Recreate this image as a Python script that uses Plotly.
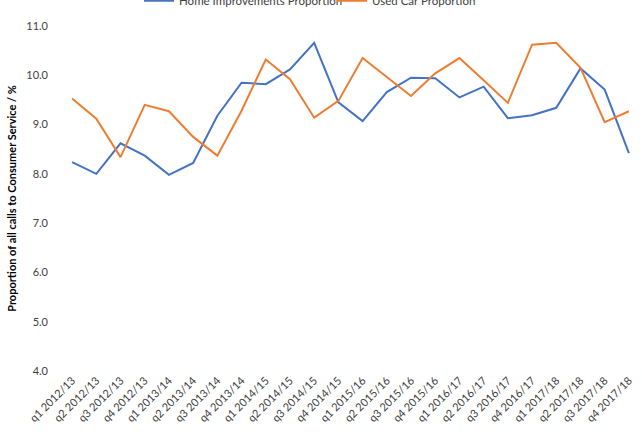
import plotly.graph_objects as go

quarters = ["q1 2012/13","q2 2012/13","q3 2012/13","q4 2012/13",
            "q1 2013/14","q2 2013/14","q3 2013/14","q4 2013/14",
            "q1 2014/15","q2 2014/15","q3 2014/15","q4 2014/15",
            "q1 2015/16","q2 2015/16","q3 2015/16","q4 2015/16",
            "q1 2016/17","q2 2016/17","q3 2016/17","q4 2016/17",
            "q1 2017/18","q2 2017/18","q3 2017/18","q4 2017/18"]

home_improvements = [8.24, 8.00, 8.62, 8.37, 7.98, 8.22, 9.18, 9.85,
                     9.82, 10.12, 10.66, 9.45, 9.07, 9.66, 9.95, 9.94,
                     9.55, 9.77, 9.13, 9.19, 9.34, 10.14, 9.71, 8.42]

used_car = [9.53, 9.12, 8.34, 9.40, 9.27, 8.75, 8.37, 9.28,
            10.32, 9.92, 9.14, 9.48, 10.35, 9.97, 9.58, 10.04,
            10.35, 9.90, 9.44, 10.62, 10.66, 10.15, 9.05, 9.27]

y_ticks = [4, 5, 6, 7, 8, 9, 10, 11]

font = "Lato, 'Open Sans', sans-serif"

fig = go.Figure()
fig.add_trace(go.Scatter(x=quarters, y=home_improvements, mode="lines",
                         name="Home Improvements Proportion",
                         line=dict(color="#4472C4", width=2)))
fig.add_trace(go.Scatter(x=quarters, y=used_car, mode="lines",
                         name="Used Car Proportion",
                         line=dict(color="#ED7D31", width=2)))

fig.update_layout(
    width=642, height=435,
    margin=dict(l=60, r=1, t=26, b=64),
    paper_bgcolor="white", plot_bgcolor="white",
    font=dict(family=font, size=11, color="#404040"),
    showlegend=True,
    legend=dict(orientation="h", x=0.136, xanchor="left",
                y=0.998, yanchor="middle", yref="container",
                entrywidth=148,
                font=dict(size=11.5, color="#404040"),
                bgcolor="rgba(0,0,0,0)"),
    xaxis=dict(type="category", tickangle=-45, showgrid=False,
               showline=False, zeroline=False, ticks="",
               tickfont=dict(size=11, color="#404040"),
               range=[-0.5, len(quarters) - 0.5]),
    yaxis=dict(range=[4, 11], tickvals=y_ticks, tickformat=".1f",
               showgrid=False, showline=False, zeroline=False, ticks="",
               ticklabelstandoff=11,
               tickfont=dict(size=11, color="#404040"),
               title=dict(text="<b>Proportion of all calls to Consumer Service / %</b>",
                          font=dict(size=11, color="#000000"), standoff=7)),
)

fig.write_html("out.html")
